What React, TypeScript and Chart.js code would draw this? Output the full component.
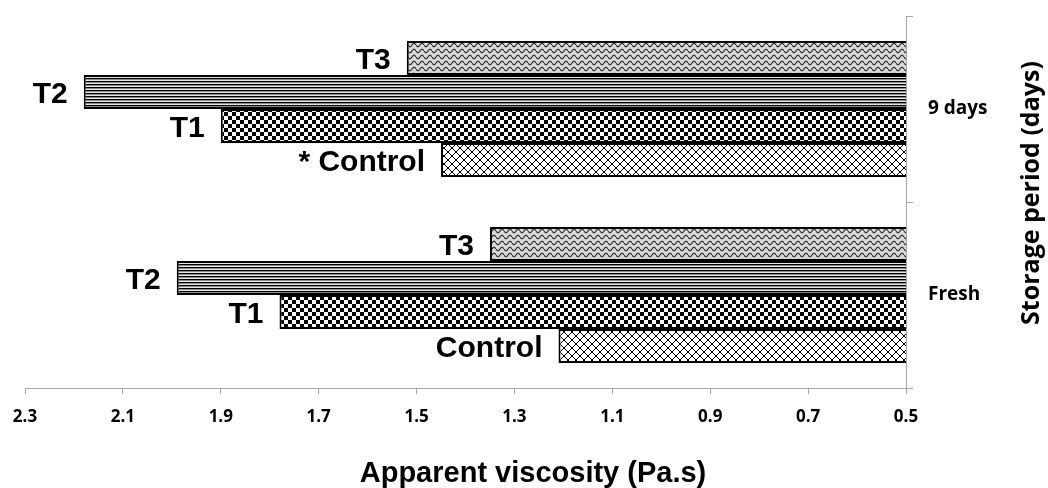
import React, { useEffect, useRef } from 'react';
import { Chart, registerables } from 'chart.js';

Chart.register(...registerables);

// ---- data ----
const categories = ['9 days', 'Fresh'];
const seriesNames = ['T3', 'T2', 'T1', 'Control'];
const t3Values = [1.52, 1.35];
const t2Values = [2.18, 1.99];
const t1Values = [1.9, 1.78];
const controlValues = [1.45, 1.21];
const t3Labels = ['T3', 'T3'];
const t2Labels = ['T2', 'T2'];
const t1Labels = ['T1', 'T1'];
const controlLabels = ['* Control', 'Control'];
const xMin = 0.5;
const xMax = 2.3;
const xStep = 0.2;
const xTitle = 'Apparent viscosity (Pa.s)';
const yTitle = 'Storage period (days)';

const W = 1048;
const H = 488;

function makeTile(w: number, h: number, draw: (c: CanvasRenderingContext2D) => void) {
  const cv = document.createElement('canvas');
  cv.width = w;
  cv.height = h;
  const c = cv.getContext('2d') as CanvasRenderingContext2D;
  draw(c);
  return cv;
}

function wavePattern(ctx: CanvasRenderingContext2D) {
  const tile = makeTile(8, 6, (c) => {
    c.fillStyle = '#d9d9d9';
    c.fillRect(0, 0, 8, 6);
    c.strokeStyle = '#262626';
    c.lineWidth = 1.1;
    c.beginPath();
    for (let x = 0; x <= 8; x += 0.5) {
      const y = 3 + 1.8 * Math.sin((x / 8) * Math.PI * 2);
      if (x === 0) c.moveTo(x, y);
      else c.lineTo(x, y);
    }
    c.stroke();
  });
  return ctx.createPattern(tile, 'repeat') as CanvasPattern;
}

function stripePattern(ctx: CanvasRenderingContext2D) {
  const tile = makeTile(4, 3, (c) => {
    c.fillStyle = '#000';
    c.fillRect(0, 0, 4, 1);
    c.fillStyle = '#8a8a8a';
    c.fillRect(0, 1, 4, 1);
    c.fillStyle = '#e6e6e6';
    c.fillRect(0, 2, 4, 1);
  });
  return ctx.createPattern(tile, 'repeat') as CanvasPattern;
}

function checkerPattern(ctx: CanvasRenderingContext2D) {
  const tile = makeTile(8, 8, (c) => {
    c.fillStyle = '#fff';
    c.fillRect(0, 0, 8, 8);
    c.fillStyle = '#000';
    c.fillRect(0, 0, 4, 4);
    c.fillRect(4, 4, 4, 4);
  });
  return ctx.createPattern(tile, 'repeat') as CanvasPattern;
}

function crossPattern(ctx: CanvasRenderingContext2D) {
  const tile = makeTile(8, 8, (c) => {
    c.fillStyle = '#fff';
    c.fillRect(0, 0, 8, 8);
    c.strokeStyle = '#000';
    c.lineWidth = 1;
    c.beginPath();
    c.moveTo(-1, -1);
    c.lineTo(9, 9);
    c.moveTo(9, -1);
    c.lineTo(-1, 9);
    c.stroke();
  });
  return ctx.createPattern(tile, 'repeat') as CanvasPattern;
}

const barLabelPlugin = {
  id: 'barLabels',
  afterDatasetsDraw(chart: any) {
    const ctx = chart.ctx as CanvasRenderingContext2D;
    const labelSets = [t3Labels, t2Labels, t1Labels, controlLabels];
    ctx.save();
    ctx.font = 'bold 30px "Liberation Sans", Arial, sans-serif';
    ctx.fillStyle = '#000';
    ctx.textAlign = 'right';
    ctx.textBaseline = 'middle';
    chart.data.datasets.forEach((_ds: any, i: number) => {
      const meta = chart.getDatasetMeta(i);
      meta.data.forEach((el: any, j: number) => {
        const { x, y } = el.getProps(['x', 'y'], true);
        ctx.fillText(labelSets[i][j], x - 16, y + 3);
      });
    });
    ctx.restore();
  },
};

const titlesPlugin = {
  id: 'axisTitles',
  afterDraw(chart: any) {
    const ctx = chart.ctx as CanvasRenderingContext2D;
    const area = chart.chartArea;
    ctx.save();
    ctx.fillStyle = '#000';
    ctx.font = 'bold 29px "Liberation Sans", Arial, sans-serif';
    ctx.textAlign = 'center';
    ctx.textBaseline = 'alphabetic';
    ctx.fillText(xTitle, 533, 482);
    ctx.translate(1032, (area.top + area.bottom) / 2 - 9);
    ctx.rotate(-Math.PI / 2);
    ctx.font = 'bold 25px "Open Sans", sans-serif';
    ctx.textBaseline = 'middle';
    ctx.fillText(yTitle, 0, 0);
    ctx.restore();
  },
};

export default function App() {
  const ref = useRef<HTMLCanvasElement | null>(null);

  useEffect(() => {
    const canvas = ref.current;
    if (!canvas) return;
    const ctx = canvas.getContext('2d') as CanvasRenderingContext2D;
    const fills = [wavePattern(ctx), stripePattern(ctx), checkerPattern(ctx), crossPattern(ctx)];
    const values = [t3Values, t2Values, t1Values, controlValues];

    const chart = new Chart(canvas, {
      type: 'bar',
      data: {
        labels: categories,
        datasets: seriesNames.map((name, i) => ({
          label: name,
          data: values[i],
          backgroundColor: fills[i],
          borderColor: '#000',
          borderWidth: 2,
          borderSkipped: false,
          barPercentage: 1,
          categoryPercentage: 0.73,
        })),
      },
      options: {
        indexAxis: 'y',
        responsive: false,
        animation: false,
        layout: { padding: { left: 25, top: 16, right: 0, bottom: 0 } },
        plugins: {
          legend: { display: false },
          tooltip: { enabled: false },
        },
        scales: {
          x: {
            type: 'linear',
            position: 'bottom',
            reverse: true,
            min: xMin,
            max: xMax,
            ticks: {
              stepSize: xStep,
              autoSkip: false,
              maxRotation: 0,
              padding: 13,
              color: '#000',
              font: { family: '"Open Sans", sans-serif', weight: 'bold', size: 17 },
              callback: (v: any) => Number(v).toFixed(1),
            },
            grid: {
              drawOnChartArea: false,
              drawTicks: true,
              tickLength: 6,
              color: '#a6a6a6',
            },
            border: { display: true, color: '#a6a6a6', width: 1 },
            afterFit: (s: any) => {
              s.height = 100;
              s.paddingLeft = 0;
              s.paddingRight = 0;
            },
          },
          y: {
            type: 'category',
            position: 'right',
            offset: true,
            ticks: {
              padding: 15,
              color: '#000',
              font: { family: '"Open Sans", sans-serif', weight: 'bold', size: 19 },
            },
            grid: {
              offset: true,
              drawOnChartArea: false,
              drawTicks: true,
              tickLength: 7,
              color: '#a6a6a6',
            },
            border: { display: true, color: '#a6a6a6', width: 1 },
            afterFit: (s: any) => {
              s.width = 142;
              s.paddingTop = 0;
              s.paddingBottom = 0;
            },
          },
        },
      } as any,
      plugins: [barLabelPlugin, titlesPlugin],
    });

    return () => chart.destroy();
  }, []);

  return (
    <div style={{ position: 'fixed', left: 0, top: 0, width: W, height: H, background: '#fff' }}>
      <canvas ref={ref} width={W} height={H} style={{ display: 'block', width: W, height: H }} />
    </div>
  );
}
